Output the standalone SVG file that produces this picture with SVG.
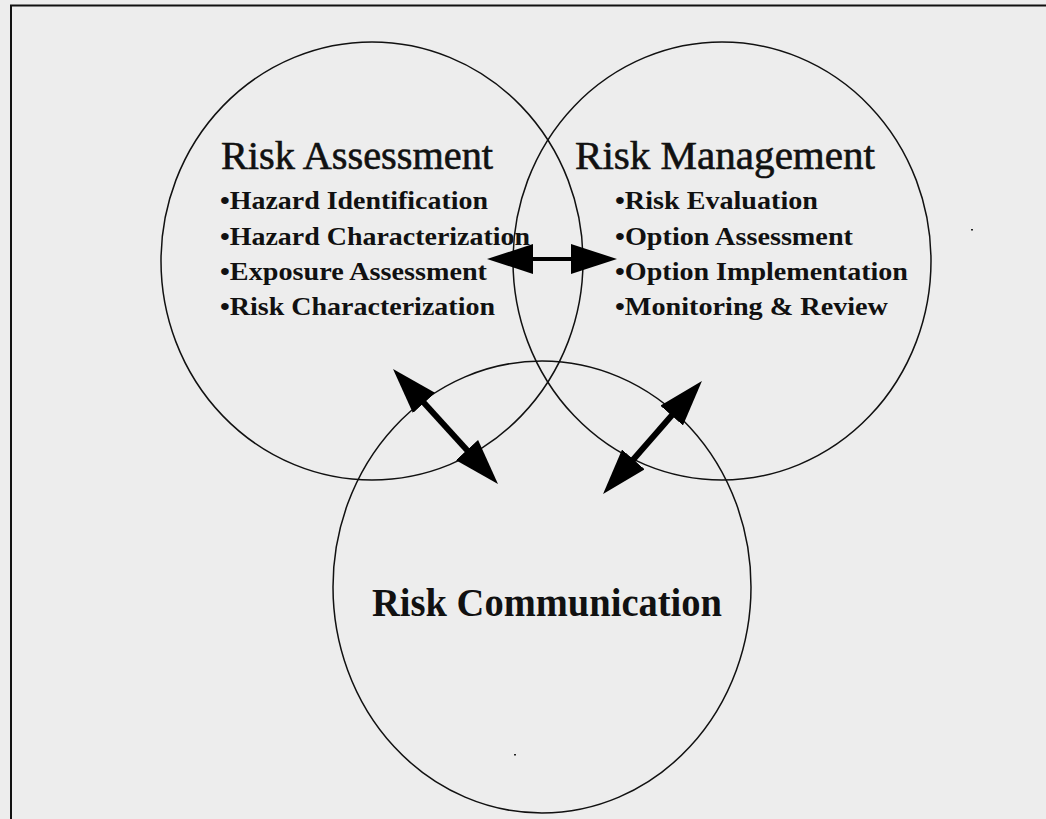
<svg xmlns="http://www.w3.org/2000/svg" width="1046" height="819" viewBox="0 0 1046 819">
  <style>
    .ring { fill: none; stroke: #111; stroke-width: 1.5; }
    .title { font-family: "Liberation Serif", "Times New Roman", serif; font-size: 39px; fill: #111; stroke: #111; stroke-width: 0.6; }
    .title-b { font-family: "Liberation Serif", "Times New Roman", serif; font-size: 40px; font-weight: bold; fill: #111; }
    .item { font-family: "Liberation Serif", "Times New Roman", serif; font-size: 26px; font-weight: bold; fill: #111; }
    .conn { stroke: #000; fill: none; }
  </style>
  <defs>
    <marker id="head" markerUnits="userSpaceOnUse" markerWidth="46" markerHeight="30" viewBox="0 0 46 30" refX="11" refY="15" orient="auto-start-reverse">
      <path d="M0,0 L46,15 L0,30 Z" fill="#000"/>
    </marker>
  </defs>

  <rect x="0" y="0" width="1046" height="819" fill="#ededed"/>
  <path d="M11,819 V5.5 H1046" fill="none" stroke="#111" stroke-width="2"/>
  <rect x="971" y="229" width="2" height="1.5" fill="#222"/>
  <rect x="514" y="754" width="2" height="1.5" fill="#222"/>

  <g id="node-assessment">
    <ellipse class="ring" cx="372" cy="261" rx="211" ry="219"/>
    <text class="title" x="221" y="169" textLength="272" lengthAdjust="spacingAndGlyphs">Risk Assessment</text>
    <text class="item" x="220" y="209" textLength="268" lengthAdjust="spacingAndGlyphs">•Hazard Identification</text>
    <text class="item" x="220" y="245" textLength="310" lengthAdjust="spacingAndGlyphs">•Hazard Characterization</text>
    <text class="item" x="220" y="280" textLength="267" lengthAdjust="spacingAndGlyphs">•Exposure Assessment</text>
    <text class="item" x="220" y="315" textLength="275" lengthAdjust="spacingAndGlyphs">•Risk Characterization</text>
  </g>

  <g id="node-management">
    <ellipse class="ring" cx="722" cy="261" rx="209" ry="219"/>
    <text class="title" x="575" y="169" textLength="300" lengthAdjust="spacingAndGlyphs">Risk Management</text>
    <text class="item" x="615" y="209" textLength="203" lengthAdjust="spacingAndGlyphs">•Risk Evaluation</text>
    <text class="item" x="615" y="245" textLength="238" lengthAdjust="spacingAndGlyphs">•Option Assessment</text>
    <text class="item" x="615" y="280" textLength="293" lengthAdjust="spacingAndGlyphs">•Option Implementation</text>
    <text class="item" x="615" y="315" textLength="273" lengthAdjust="spacingAndGlyphs">•Monitoring &amp; Review</text>
  </g>

  <g id="node-communication">
    <ellipse class="ring" cx="542" cy="587" rx="209" ry="226"/>
    <text class="title-b" x="372" y="616" textLength="350" lengthAdjust="spacingAndGlyphs">Risk Communication</text>
  </g>

  <g id="connectors">
    <line class="conn" x1="522" y1="259" x2="582" y2="259" stroke-width="4" marker-start="url(#head)" marker-end="url(#head)"/>
    <line class="conn" x1="416.6" y1="394.8" x2="474.4" y2="458.2" stroke-width="6" marker-start="url(#head)" marker-end="url(#head)"/>
    <line class="conn" x1="678.9" y1="407.3" x2="626.1" y2="467.7" stroke-width="6" marker-start="url(#head)" marker-end="url(#head)"/>
  </g>
</svg>
